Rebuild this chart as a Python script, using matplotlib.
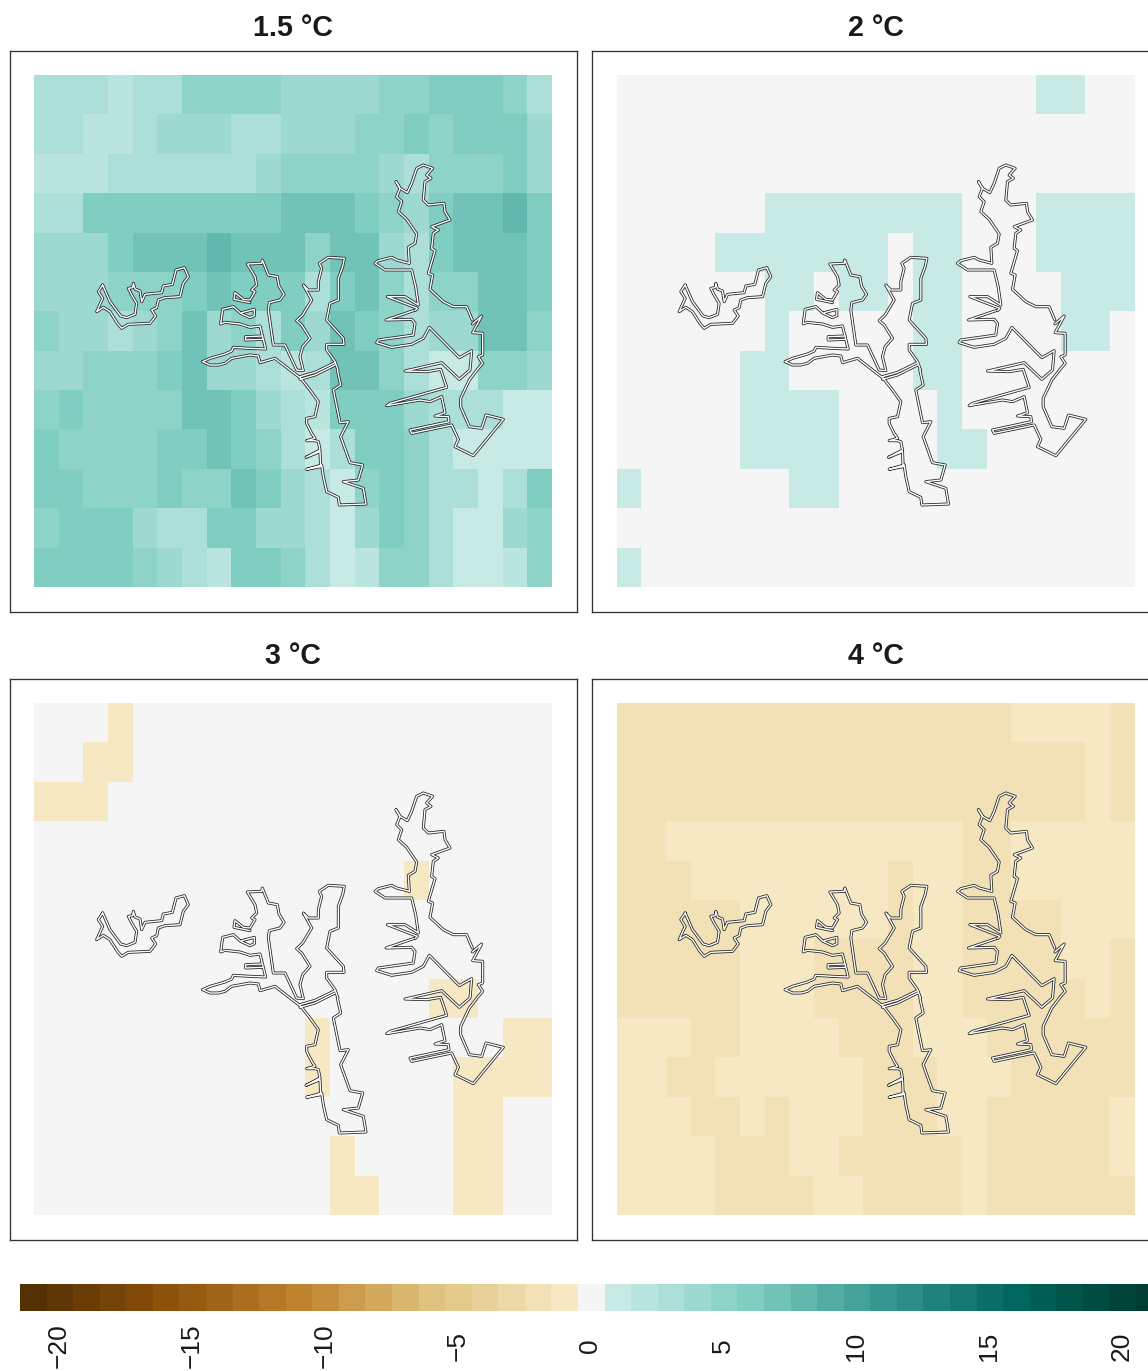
import numpy as np
import matplotlib
matplotlib.use("Agg")
import matplotlib.pyplot as plt
from matplotlib.colors import ListedColormap, BoundaryNorm, LinearSegmentedColormap
from matplotlib.transforms import ScaledTranslation

plt.rcParams['font.family'] = ['Liberation Sans', 'DejaVu Sans']

titles = ["1.5 °C", "2 °C", "3 °C", "4 °C"]

panel_15 = [
 [3,3,3,2,3,3,5,5,5,5,4,4,4,4,5,5,6,6,6,5,3],
 [3,3,2,2,3,4,4,4,3,3,4,4,4,5,5,6,5,6,6,6,4],
 [2,2,2,3,3,3,3,3,3,4,5,5,5,5,4,3,5,5,5,6,4],
 [3,3,6,6,6,6,6,6,6,6,7,7,7,6,5,4,6,7,7,8,6],
 [4,4,4,6,7,7,7,8,7,7,7,5,7,7,4,3,6,7,7,7,6],
 [4,4,4,5,5,5,6,7,6,6,6,3,6,7,5,3,5,5,7,7,6],
 [5,4,4,3,4,5,7,4,5,3,6,4,7,6,5,3,4,4,7,7,5],
 [4,4,5,5,5,6,7,4,4,3,2,3,7,7,5,3,1,1,5,5,4],
 [5,6,5,5,5,5,7,7,6,4,3,2,6,6,6,4,3,3,3,1,1],
 [6,5,5,5,5,6,6,7,6,5,3,1,3,6,6,5,3,1,1,1,1],
 [6,6,5,5,5,6,5,5,7,6,4,3,1,5,6,5,3,3,1,3,6],
 [5,6,6,6,4,3,3,6,6,4,4,3,1,4,6,5,3,1,1,4,5],
 [6,6,6,6,5,4,3,2,6,6,5,3,1,2,5,5,3,1,1,2,5],
]
panel_2 = [
 [0,0,0,0,0,0,0,0,0,0,0,0,0,0,0,0,0,1,1,0,0],
 [0,0,0,0,0,0,0,0,0,0,0,0,0,0,0,0,0,0,0,0,0],
 [0,0,0,0,0,0,0,0,0,0,0,0,0,0,0,0,0,0,0,0,0],
 [0,0,0,0,0,0,1,1,1,1,1,1,1,1,0,0,0,1,1,1,1],
 [0,0,0,0,1,1,1,1,1,1,1,0,1,1,0,0,0,1,1,1,1],
 [0,0,0,0,0,0,1,1,0,1,1,0,1,1,0,0,0,0,1,1,1],
 [0,0,0,0,0,0,1,0,0,0,0,0,1,1,0,0,0,0,1,1,0],
 [0,0,0,0,0,1,1,0,0,0,0,0,1,1,0,0,0,0,0,0,0],
 [0,0,0,0,0,1,1,1,1,0,0,0,0,1,0,0,0,0,0,0,0],
 [0,0,0,0,0,1,1,1,1,0,0,0,0,1,1,0,0,0,0,0,0],
 [1,0,0,0,0,0,0,1,1,0,0,0,0,0,0,0,0,0,0,0,0],
 [0,0,0,0,0,0,0,0,0,0,0,0,0,0,0,0,0,0,0,0,0],
 [1,0,0,0,0,0,0,0,0,0,0,0,0,0,0,0,0,0,0,0,0],
]
panel_3 = [
 [0,0,0,-1,0,0,0,0,0,0,0,0,0,0,0,0,0,0,0,0,0],
 [0,0,-1,-1,0,0,0,0,0,0,0,0,0,0,0,0,0,0,0,0,0],
 [-1,-1,-1,0,0,0,0,0,0,0,0,0,0,0,0,0,0,0,0,0,0],
 [0,0,0,0,0,0,0,0,0,0,0,0,0,0,0,0,0,0,0,0,0],
 [0,0,0,0,0,0,0,0,0,0,0,0,0,0,0,-1,0,0,0,0,0],
 [0,0,0,0,0,0,0,0,0,0,0,0,0,0,0,0,0,0,0,0,0],
 [0,0,0,0,0,0,0,0,0,0,0,0,0,0,0,0,0,0,0,0,0],
 [0,0,0,0,0,0,0,0,0,0,0,0,0,0,0,0,-1,-1,0,0,0],
 [0,0,0,0,0,0,0,0,0,0,0,-1,0,0,0,0,0,0,0,-1,-1],
 [0,0,0,0,0,0,0,0,0,0,0,-1,0,0,0,0,0,-1,-1,-1,-1],
 [0,0,0,0,0,0,0,0,0,0,0,0,0,0,0,0,0,-1,-1,0,0],
 [0,0,0,0,0,0,0,0,0,0,0,0,-1,0,0,0,0,-1,-1,0,0],
 [0,0,0,0,0,0,0,0,0,0,0,0,-1,-1,0,0,0,-1,-1,0,0],
]
panel_4 = [
 [-2,-2,-2,-2,-2,-2,-2,-2,-2,-2,-2,-2,-2,-2,-2,-2,-1,-1,-1,-1,-2],
 [-2,-2,-2,-2,-2,-2,-2,-2,-2,-2,-2,-2,-2,-2,-2,-2,-2,-2,-2,-1,-2],
 [-2,-2,-2,-2,-2,-2,-2,-2,-2,-2,-2,-2,-2,-2,-2,-2,-2,-2,-2,-1,-2],
 [-2,-2,-1,-1,-1,-1,-1,-1,-1,-1,-1,-1,-1,-1,-2,-2,-1,-1,-1,-1,-1],
 [-2,-2,-2,-1,-1,-1,-1,-1,-1,-1,-1,-2,-1,-1,-2,-2,-1,-1,-1,-1,-1],
 [-2,-2,-2,-2,-2,-1,-1,-1,-1,-1,-1,-2,-1,-1,-2,-2,-2,-2,-1,-1,-1],
 [-2,-2,-2,-2,-2,-1,-1,-1,-2,-2,-2,-2,-1,-1,-2,-2,-2,-2,-1,-1,-2],
 [-2,-2,-2,-2,-2,-1,-1,-1,-2,-2,-2,-2,-1,-1,-2,-2,-2,-2,-2,-1,-2],
 [-1,-1,-1,-2,-2,-1,-1,-1,-1,-2,-2,-2,-1,-1,-1,-2,-2,-2,-2,-2,-2],
 [-1,-1,-2,-2,-1,-1,-1,-1,-1,-1,-2,-2,-2,-1,-1,-1,-2,-2,-2,-2,-2],
 [-1,-1,-1,-2,-2,-1,-2,-1,-1,-1,-2,-2,-2,-1,-1,-2,-2,-2,-2,-2,-1],
 [-1,-1,-1,-1,-2,-2,-2,-1,-1,-2,-2,-2,-2,-2,-1,-2,-2,-2,-2,-2,-1],
 [-1,-1,-1,-1,-2,-2,-2,-2,-1,-1,-2,-2,-2,-2,-1,-2,-2,-2,-2,-2,-2],
]
panels = [panel_15, panel_2, panel_3, panel_4]

bar_levels = list(range(-21, 22))
bar_ticks = [-20, -15, -10, -5, 0, 5, 10, 15, 20]
brown_anchors = ['#543005', '#8c510a', '#bf812d', '#dfc27d', '#f6e8c3']
neutral = '#f5f5f5'
teal_anchors = ['#c7eae5', '#80cdc1', '#35978f', '#01665e', '#003c30']

outline_left = [
 (90, 255, [(38,90),(60,140),(92,183),(110,188),(135,178),(140,145),(125,120),(115,100),(128,98),(130,85),
            (135,102),(150,108),(155,140),(165,118),(215,113),(220,93),(247,88),(258,45),(283,38),(295,65),
            (280,85),(270,125),(225,128),(205,135),(200,158),(185,165),(197,183),(180,205),(115,208),(95,220),
            (82,205),(60,170),(40,157),(20,170),(38,130),(25,110),(38,90)]),
]
outline_mid = [
 (200, 250, [(8,335),(30,325),(75,312),(95,303),(100,292),(150,295),(197,297),(180,228),(150,232),(120,222),
             (75,217),(62,222),(68,178),(100,170),(122,190),(150,203),(163,197),(163,178),(125,188)]),
 (200, 250, [(188,258),(137,260),(137,270),(188,268)]),
 (200, 250, [(150,158),(102,148),(105,128),(130,148),(150,150),(165,125),(155,120),(170,105),(165,80),(150,55),
             (142,42),(185,40),(187,30),(205,75),(232,80),(237,108),(252,133),(240,150),(208,158),(205,180),
             (220,285),(255,285),(290,360),(310,362),(300,320),(308,290),(330,265),(305,225),(290,212),(308,195),
             (335,150),(310,105),(325,120),(355,120),(355,95),(365,55),(358,40),(385,22),(433,25),(428,50),
             (415,85),(415,150),(390,160),(380,210),(430,265),(432,283),(380,283),(380,300),(405,335),(414,360)]),
 (200, 250, [(8,335),(30,345),(55,345),(75,340),(95,325),(150,315),(175,318),(180,338),(225,325),(300,383)]),
 (200, 250, [(300,388),(345,375),(405,345)]),
 (200, 250, [(300,380),(345,367),(405,338)]),
 (290, 370, [(30,22),(60,60),(85,95),(75,140),(50,145),(50,160),(65,190),(75,205),(50,212),(75,212),(85,215),
             (90,240),(48,262),(90,245),(92,290),(50,298),(95,285),(100,320),(110,365),(145,382),(148,405),
             (228,402),(220,355),(160,335),(205,330),(218,285),(180,278),(152,200),(175,155),(150,158),(130,60),
             (152,45),(142,0)]),
]
outline_right = [
 (370, 160, [(78,65),(90,85),(112,98),(125,70),(140,25),(160,15),(188,25),(170,45),(183,55),(165,65),(160,120),
             (175,135),(222,130),(225,155),(240,180),(185,200),(205,210),(190,220),(185,265),(195,272),(175,340),
             (188,345),(180,388),(220,425),(250,440),(290,440),(307,480)]),
 (370, 310, [(307,42),(335,18),(308,68),(338,70),(338,135),(325,140),(338,160),(325,175),(298,210),(272,265),
             (272,290),(298,350),(335,355),(348,315),(400,328),(310,437),(255,410),(265,388),(245,345),(125,370),
             (120,360),(237,335),(235,320),(195,318),(225,308),(215,260),(180,275),(150,270),(50,287),(60,280),
             (230,232),(212,178),(170,185),(105,183),(215,158),(268,208),(300,180),(305,122),(268,143),(178,52),
             (160,85),(125,103),(65,112),(20,98),(25,90),(110,78),(130,75),(135,40),(125,28),(48,30),(130,2)]),
 (370, 160, [(135,452),(142,445),(52,410),(105,410),(145,435),(137,380),(125,330),(45,330),(15,310),(25,302),
             (65,292),(80,300),(118,310),(115,262),(135,250),(140,222),(110,178),(85,155),(95,125),(80,110),
             (90,85),(78,65)]),
]
outline_traces = outline_left + outline_mid + outline_right

# ---- layout, in pixels of the 1148x1371 figure
W, H = 1148, 1371
fig = plt.figure(figsize=(W/100, H/100), dpi=100, facecolor='white')
def add_px_axes(l, t, r, b):
    return fig.add_axes([l/W, 1-b/H, (r-l)/W, (b-t)/H])

cols, rows = 21, 13
cell_w = 518/21
cell_h = 512/13
boxes = [(9.5, 50.5), (592, 50.5), (9.5, 678.5), (592, 678.5)]
box_w, box_h = 567, 561
margin_x, margin_y = 24.5, 24.5

def ramp(anchors, n):
    cm = LinearSegmentedColormap.from_list('r', anchors)
    return [cm(i/(n-1)) for i in range(n)]

bar_colors = ramp(brown_anchors, 21) + [neutral] + ramp(teal_anchors, 21)
cmap = ListedColormap(bar_colors)
norm = BoundaryNorm(np.arange(-21.5, 22.5, 1), cmap.N)

x_edges = np.arange(cols+1)
y_edges = np.arange(rows+1)

for (l, t), title, grid in zip(boxes, titles, panels):
    ax = add_px_axes(l, t, l+box_w, t+box_h)
    values = np.array(grid)[::-1]
    ax.pcolormesh(x_edges, y_edges, values, cmap=cmap, norm=norm, edgecolors='none', antialiased=False)
    ax.set_xlim(-margin_x/cell_w, cols + (box_w-518-margin_x)/cell_w)
    ax.set_ylim(-(box_h-512-margin_y)/cell_h, rows + margin_y/cell_h)
    ax.set_xticks([]); ax.set_yticks([])
    for s in ax.spines.values():
        s.set_linewidth(0.95)
        s.set_edgecolor('#333333')
    for color, width in (('#222222', 2.15), ('white', 1.0)):
        for ox, oy, pts in outline_traces:
            p = np.array(pts, dtype=float)
            gx = (ox + p[:, 0]/3 - 34)/cell_w
            gy = (587 - (oy + p[:, 1]/3))/cell_h
            ax.plot(gx, gy, color=color, lw=width, solid_joinstyle='round', solid_capstyle='round')
    ax.set_title(title, fontsize=20.6, fontweight='bold', color='#1a1a1a', pad=10.5)

# ---- stepped colour bar; runs past the right edge of the figure
bar_unit = 26.57
bar_r = 20 + bar_unit*len(bar_levels)
cax = add_px_axes(20, 1284, bar_r, 1311)
edges = np.arange(-21.5, 22.5, 1)
cax.pcolormesh(edges, [0, 1], np.array([bar_levels]), cmap=cmap, norm=norm, edgecolors='none', antialiased=False)
cax.set_xlim(edges[0], edges[-1])
cax.set_ylim(0, 1)
cax.set_yticks([])
cax.set_xticks(bar_ticks)
cax.set_xticklabels([str(v).replace('-', '\u2212') for v in bar_ticks], rotation=90, fontsize=19,
                    color='#1a1a1a', va='center', ha='center')
cax.tick_params(axis='x', length=0, pad=25.2)
shift = ScaledTranslation(-1/100, 0, fig.dpi_scale_trans)
for lab in cax.get_xticklabels():
    lab.set_transform(lab.get_transform() + shift)
for s in cax.spines.values():
    s.set_visible(False)

fig.savefig('out.png', dpi=100, facecolor='white')
